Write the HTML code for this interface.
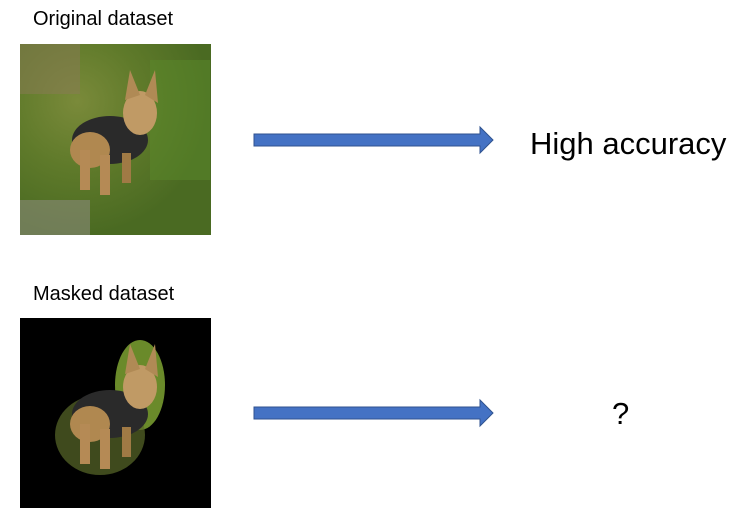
<!DOCTYPE html>
<html><head><meta charset="utf-8"><style>
body{margin:0;width:756px;height:527px;background:#fff;position:relative;overflow:hidden;font-family:"Liberation Sans",sans-serif}
.t{position:absolute;font-size:20px;color:#000}
</style></head><body>
<div class="t" style="left:33px;top:8px">Original dataset</div>
<div class="t" style="left:33px;top:283px">Masked dataset</div>
<div class="t" style="left:530px;top:126px;font-size:31px">High accuracy</div>
<div class="t" style="left:612px;top:396px;font-size:31px">?</div>
<svg width="756" height="527" style="position:absolute;left:0;top:0">
<defs>
<radialGradient id="g1" cx="30%" cy="30%" r="70%"><stop offset="0" stop-color="#7a8a3a"/><stop offset="0.5" stop-color="#5f7a2a"/><stop offset="1" stop-color="#4a6a22"/></radialGradient>
<g id="dog">
<ellipse cx="100" cy="115" rx="38" ry="24" fill="#2a2a2a"/>
<ellipse cx="80" cy="125" rx="20" ry="18" fill="#b08850"/>
<rect x="70" y="125" width="10" height="40" fill="#b58a55"/>
<rect x="90" y="130" width="10" height="40" fill="#b58a55"/>
<rect x="112" y="128" width="9" height="30" fill="#a07a45"/>
<ellipse cx="130" cy="88" rx="17" ry="22" fill="#c09a65"/>
<polygon points="115,75 120,45 130,70" fill="#b08a55"/>
<polygon points="135,70 145,45 148,78" fill="#b08a55"/>
</g>
</defs>
<rect x="20" y="44" width="191" height="191" fill="url(#g1)"/>
<rect x="20" y="44" width="60" height="50" fill="#8a7a55" opacity="0.5"/>
<rect x="20" y="200" width="70" height="35" fill="#8a8a7a" opacity="0.6"/>
<rect x="150" y="60" width="60" height="120" fill="#5a8a2a" opacity="0.5"/>
<g transform="translate(10,25)"><use href="#dog"/></g>
<rect x="20" y="318" width="191" height="190" fill="#000"/>
<ellipse cx="140" cy="385" rx="25" ry="45" fill="#6a8a2a"/>
<ellipse cx="100" cy="435" rx="45" ry="40" fill="#5a6a2a" opacity="0.7"/>
<g transform="translate(10,299)"><use href="#dog"/></g>
<polygon points="254,134 480,134 480,127 493,140 480,153 480,146 254,146" fill="#4472c4" stroke="#2f528f" stroke-width="1"/>
<polygon points="254,407 480,407 480,400 493,413 480,426 480,419 254,419" fill="#4472c4" stroke="#2f528f" stroke-width="1"/>
</svg>
</body></html>
